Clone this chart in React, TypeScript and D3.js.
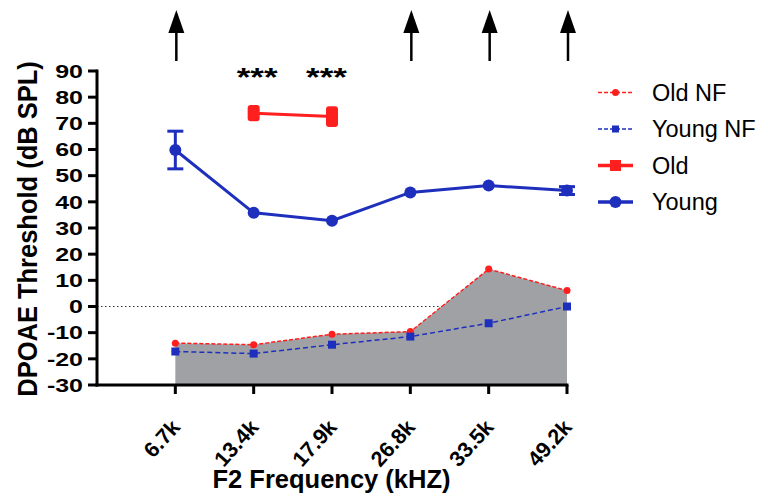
import * as d3 from 'd3';
import { useEffect, useRef } from 'react';

const freqs = ['6.7k', '13.4k', '17.9k', '26.8k', '33.5k', '49.2k'];
const youngMean = [59.8, 35.8, 32.8, 43.6, 46.2, 44.3];
const youngErr = [7.2, 0, 0, 0, 0, 1.5];
const oldFreqs = ['13.4k', '17.9k'];
const oldMean = [73.9, 72.6];
const oldErr = [2.3, 3.2];
const oldNF = [-14, -14.6, -10.6, -9.6, 14.3, 6.1];
const youngNF = [-17.2, -18, -14.6, -11.5, -6.4, 0];
const arrowFreqs = ['6.7k', '26.8k', '33.5k', '49.2k'];
const starFreqs = ['13.4k', '17.9k'];
const yTicks = d3.range(-30, 91, 10);

const RED = '#ff1f1f';
const BLUE = '#1e2fbd';
const FONT = '"Liberation Sans", Arial, sans-serif';

export default function App() {
    const ref = useRef<SVGSVGElement>(null);

    useEffect(() => {
        const svg = d3.select(ref.current);
        svg.selectAll('*').remove();

        const idx = (f: string) => freqs.indexOf(f);
        // index -1 sits on the y axis
        const x = d3.scaleLinear().domain([-1, 5]).range([97, 567]);
        const y = d3.scaleLinear().domain([-30, 90]).range([385, 71]);

        // zero reference line
        svg.append('line')
            .attr('x1', x(-1)).attr('x2', x(5))
            .attr('y1', y(0)).attr('y2', y(0))
            .attr('stroke', '#333').attr('stroke-width', 1)
            .attr('stroke-dasharray', '1.5,2.5');

        // grey area under Old NF
        const area = d3.area<number>()
            .x((_, i) => x(i))
            .y0(y(-30))
            .y1(d => y(d));
        svg.append('path')
            .datum(oldNF)
            .attr('fill', '#a0a1a5')
            .attr('d', area);

        const line = d3.line<number>().x((_, i) => x(i)).y(d => y(d));

        // NF lines
        svg.append('path').datum(oldNF)
            .attr('fill', 'none').attr('stroke', RED).attr('stroke-width', 1.5)
            .attr('stroke-dasharray', '4,2').attr('d', line);
        svg.selectAll('.onf').data(oldNF).join('circle')
            .attr('cx', (_, i) => x(i)).attr('cy', d => y(d)).attr('r', 3.5).attr('fill', RED);

        svg.append('path').datum(youngNF)
            .attr('fill', 'none').attr('stroke', BLUE).attr('stroke-width', 1.5)
            .attr('stroke-dasharray', '5,3').attr('d', line);
        svg.selectAll('.ynf').data(youngNF).join('rect')
            .attr('x', (_, i) => x(i) - 4).attr('y', d => y(d) - 4)
            .attr('width', 8).attr('height', 8).attr('fill', BLUE);

        // Young
        svg.append('path').datum(youngMean)
            .attr('fill', 'none').attr('stroke', BLUE).attr('stroke-width', 3).attr('d', line);
        youngMean.forEach((m, i) => {
            if (youngErr[i] > 0) {
                const g = svg.append('g').attr('stroke', BLUE).attr('stroke-width', 3);
                g.append('line').attr('x1', x(i)).attr('x2', x(i)).attr('y1', y(m - youngErr[i])).attr('y2', y(m + youngErr[i]));
                [m - youngErr[i], m + youngErr[i]].forEach(v =>
                    g.append('line').attr('x1', x(i) - 8).attr('x2', x(i) + 8).attr('y1', y(v)).attr('y2', y(v)));
            }
            svg.append('circle').attr('cx', x(i)).attr('cy', y(m)).attr('r', 6).attr('fill', BLUE);
        });

        // Old (error bars hidden under thick square markers)
        const oldLine = d3.line<number>().x((_, i) => x(idx(oldFreqs[i]))).y(d => y(d));
        svg.append('path').datum(oldMean)
            .attr('fill', 'none').attr('stroke', RED).attr('stroke-width', 3).attr('d', oldLine);
        oldMean.forEach((m, i) => {
            const cx = x(idx(oldFreqs[i]));
            svg.append('rect')
                .attr('x', cx - 6).attr('y', y(m + oldErr[i]) - 2)
                .attr('width', 12).attr('height', y(m - oldErr[i]) - y(m + oldErr[i]) + 4)
                .attr('rx', 3).attr('fill', RED);
        });

        // axes
        const ax = svg.append('g').attr('stroke', '#000').attr('stroke-width', 3);
        ax.append('line').attr('x1', x(-1)).attr('x2', x(-1)).attr('y1', y(90) - 1.5).attr('y2', y(-30) + 1.5);
        ax.append('line').attr('x1', x(-1) - 1.5).attr('x2', x(5) + 1.5).attr('y1', y(-30)).attr('y2', y(-30));
        yTicks.forEach(t => {
            ax.append('line').attr('x1', x(-1) - 9).attr('x2', x(-1)).attr('y1', y(t)).attr('y2', y(t));
        });
        freqs.forEach((_, i) => {
            ax.append('line').attr('x1', x(i)).attr('x2', x(i)).attr('y1', y(-30)).attr('y2', y(-30) + 9);
        });

        svg.selectAll('.yt').data(yTicks).join('text')
            .attr('transform', d => `translate(83,${y(d)}) scale(1.35,1)`)
            .attr('dy', '0.36em')
            .attr('text-anchor', 'end').attr('font-family', FONT).attr('font-weight', 'bold')
            .attr('font-size', 18.5).text(d => d);

        svg.selectAll('.xt').data(freqs).join('text')
            .attr('transform', (_, i) => `translate(${x(i) + 6},428) rotate(-48)`)
            .attr('text-anchor', 'end').attr('font-family', FONT).attr('font-weight', 'bold')
            .attr('font-size', 21.5).text(d => d);

        svg.append('text')
            .attr('x', 331.5).attr('y', 488).attr('text-anchor', 'middle')
            .attr('font-family', FONT).attr('font-weight', 'bold').attr('font-size', 25.5)
            .text('F2 Frequency (kHZ)');

        svg.append('text')
            .attr('transform', `translate(37,229) rotate(-90) scale(1,1.08)`)
            .attr('text-anchor', 'middle')
            .attr('font-family', FONT).attr('font-weight', 'bold').attr('font-size', 25.5)
            .text('DPOAE Threshold (dB SPL)');

        // arrows
        arrowFreqs.forEach(f => {
            const cx = x(idx(f)) + 1;
            svg.append('line').attr('x1', cx).attr('x2', cx).attr('y1', 61).attr('y2', 28)
                .attr('stroke', '#000').attr('stroke-width', 2.5);
            svg.append('path').attr('d', `M${cx - 8},33 L${cx},10 L${cx + 8},33 Z`).attr('fill', '#000');
        });

        // significance stars
        starFreqs.forEach(f => {
            svg.append('text')
                .attr('transform', `translate(${x(idx(f)) + (f === '13.4k' ? 3.5 : -5.5)},86) scale(1.4,1)`)
                .attr('text-anchor', 'middle')
                .attr('font-family', FONT).attr('font-weight', 'bold').attr('font-size', 25)
                .text('***');
        });

        // legend
        const legend = [
            { label: 'Old NF', color: RED, dash: '4,2', width: 1.5, mark: 'c', size: 3.5 },
            { label: 'Young NF', color: BLUE, dash: '4,2', width: 1.5, mark: 's', size: 7 },
            { label: 'Old', color: RED, dash: null, width: 3.5, mark: 's', size: 11 },
            { label: 'Young', color: BLUE, dash: null, width: 3.5, mark: 'c', size: 6 },
        ];
        const lg = svg.append('g');
        legend.forEach((d, i) => {
            const cy = 92.5 + i * 36.5;
            lg.append('line').attr('x1', 598).attr('x2', 633).attr('y1', cy).attr('y2', cy)
                .attr('stroke', d.color).attr('stroke-width', d.width)
                .attr('stroke-dasharray', d.dash);
            if (d.mark === 'c') {
                lg.append('circle').attr('cx', 615.5).attr('cy', cy).attr('r', d.size).attr('fill', d.color);
            } else {
                lg.append('rect').attr('x', 615.5 - d.size / 2).attr('y', cy - d.size / 2)
                    .attr('width', d.size).attr('height', d.size).attr('fill', d.color);
            }
            lg.append('text').attr('x', 652).attr('y', cy).attr('dy', '0.36em')
                .attr('font-family', FONT).attr('font-size', 23.5).text(d.label);
        });
    }, []);

    return (
        <svg ref={ref} width={768} height={498}
            style={{ position: 'absolute', left: 0, top: 0, background: '#fff' }} />
    );
}
